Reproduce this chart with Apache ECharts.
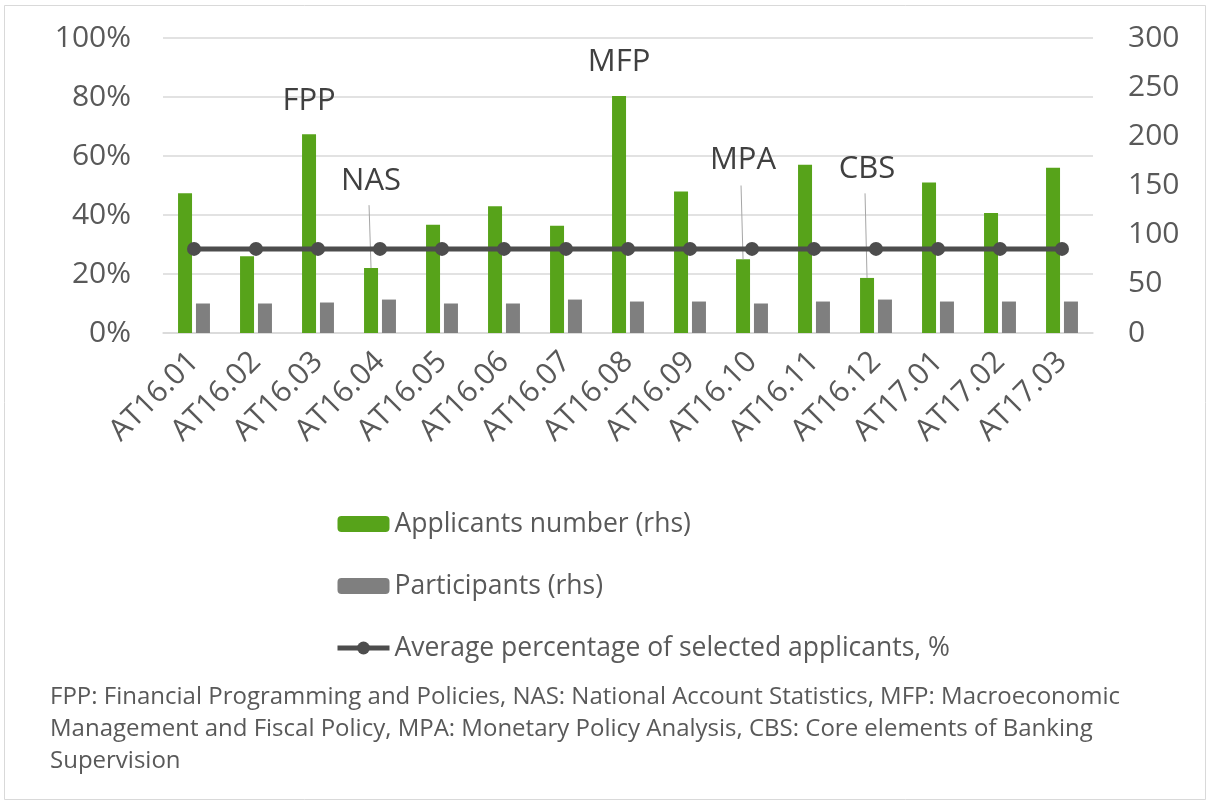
<!DOCTYPE html>
<html>
<head>
<meta charset="utf-8">
<script src="https://cdn.jsdelivr.net/npm/echarts@6/dist/echarts.min.js"></script>
<style>
  html, body { margin: 0; padding: 0; background: #fff; }
  #chart { width: 1207px; height: 802px; }
</style>
</head>
<body>
<div id="chart"></div>
<script>
(function () {
    'use strict';

    // categories (courses)
    var courses = ['AT16.01', 'AT16.02', 'AT16.03', 'AT16.04', 'AT16.05', 'AT16.06', 'AT16.07', 'AT16.08',
        'AT16.09', 'AT16.10', 'AT16.11', 'AT16.12', 'AT17.01', 'AT17.02', 'AT17.03'];
    var applicants = [142, 78, 202, 66, 110, 129, 109, 241, 144, 75, 171, 56, 153, 122, 168];
    var participants = [30, 30, 31, 34, 30, 30, 34, 32, 32, 30, 32, 34, 32, 32, 32];
    var avgSelected = [0.285, 0.285, 0.285, 0.285, 0.285, 0.285, 0.285, 0.285, 0.285, 0.285, 0.285, 0.285, 0.285, 0.285, 0.285];
    // annotations on the applicants bars
    var notes = { 'AT16.03': 'FPP', 'AT16.04': 'NAS', 'AT16.08': 'MFP', 'AT16.10': 'MPA', 'AT16.12': 'CBS' };
    var noteGap = { 'AT16.03': 18, 'AT16.04': 71, 'AT16.08': 18, 'AT16.10': 84, 'AT16.12': 93 };
    // leader lines: course -> top of the line (rhs units)
    var leaderCourses = ['AT16.04', 'AT16.10', 'AT16.12'];
    var leaderTops = [130, 150, 142];
    var footnote = 'FPP: Financial Programming and Policies, NAS: National Account Statistics, MFP: Macroeconomic\n' +
        'Management and Fiscal Policy, MPA: Monetary Policy Analysis, CBS: Core elements of Banking\n' +
        'Supervision';

    var txt = '#595959';
    var font = '"Open Sans", "Noto Sans", sans-serif';
    var barW = 14;

    var appData = [];
    for (var i = 0; i < courses.length; i++) {
        var c = courses[i];
        var item = { value: applicants[i] };
        if (notes[c]) {
            item.label = {
                show: true,
                position: 'top',
                distance: noteGap[c],
                formatter: notes[c],
                fontSize: 31,
                color: '#404040',
                fontFamily: font
            };
        }
        appData.push(item);
    }

    var leaderData = [];
    for (var j = 0; j < leaderCourses.length; j++) {
        var k = courses.indexOf(leaderCourses[j]);
        leaderData.push([k, applicants[k], leaderTops[j]]);
    }

    var myChart = echarts.init(document.getElementById('chart'));

    var option = {
        backgroundColor: '#fff',
        animation: false,
        textStyle: { fontFamily: font },
        graphic: [{
            type: 'rect',
            shape: { x: 4.5, y: 5.5, width: 1201, height: 794 },
            style: { fill: 'none', stroke: '#d9d9d9', lineWidth: 1 },
            z: -1
        }, {
            type: 'text',
            left: 50,
            top: 681,
            style: {
                text: footnote,
                fontSize: 24,
                lineHeight: 32,
                fill: txt,
                fontFamily: font
            }
        }],
        grid: { left: 163, top: 38, width: 930, height: 295, containLabel: false },
        legend: {
            orient: 'vertical',
            left: 330,
            top: 503,
            itemWidth: 52,
            itemHeight: 16,
            itemGap: 30,
            textStyle: { fontSize: 26.5, color: txt, lineHeight: 32 },
            data: [
                'Applicants number (rhs)',
                'Participants (rhs)',
                { name: 'Average percentage of selected applicants, %', lineStyle: { width: 5 } }
            ]
        },
        xAxis: {
            type: 'category',
            data: courses,
            axisLine: { show: true, lineStyle: { color: '#d9d9d9', width: 1.5 } },
            axisTick: { show: false },
            axisLabel: { rotate: 45, fontSize: 30, color: txt, margin: 24, interval: 0 }
        },
        yAxis: [{
            type: 'value',
            min: 0,
            max: 1,
            interval: 0.2,
            axisLine: { show: false },
            axisTick: { show: false },
            splitLine: { lineStyle: { color: '#d9d9d9', width: 1.5 } },
            axisLabel: {
                fontSize: 30, color: txt, margin: 32,
                formatter: function (v) { return Math.round(v * 100) + '%'; }
            }
        }, {
            type: 'value',
            min: 0,
            max: 300,
            interval: 50,
            position: 'right',
            axisLine: { show: false },
            axisTick: { show: false },
            splitLine: { show: false },
            axisLabel: { fontSize: 30, color: txt, margin: 35 }
        }],
        series: [{
            name: 'Applicants number (rhs)',
            type: 'bar',
            yAxisIndex: 1,
            barWidth: barW,
            barGap: '28%',
            itemStyle: { color: '#57a31a' },
            data: appData
        }, {
            name: 'Participants (rhs)',
            type: 'bar',
            yAxisIndex: 1,
            barWidth: barW,
            itemStyle: { color: '#7f7f7f' },
            data: participants
        }, {
            name: 'Average percentage of selected applicants, %',
            type: 'line',
            yAxisIndex: 0,
            symbol: 'circle',
            symbolSize: 14,
            itemStyle: { color: '#4d4d4d' },
            lineStyle: { color: '#4d4d4d', width: 5 },
            z: 5,
            data: avgSelected
        }, {
            // leader lines from the note labels down to the green bars
            name: 'leaders',
            type: 'custom',
            yAxisIndex: 1,
            silent: true,
            z: 4,
            data: leaderData,
            renderItem: function (params, api) {
                var p0 = api.coord([api.value(0), api.value(1)]);
                var p1 = api.coord([api.value(0), api.value(2)]);
                // green bar sits left of the category centre
                var dx = -(barW + barW * 0.28) / 2;
                return {
                    type: 'line',
                    shape: { x1: p0[0] + dx, y1: p0[1], x2: p1[0] + dx - 2, y2: p1[1] },
                    style: { stroke: '#a6a6a6', lineWidth: 1 }
                };
            }
        }]
    };

    myChart.setOption(option);
})();
</script>
</body>
</html>
